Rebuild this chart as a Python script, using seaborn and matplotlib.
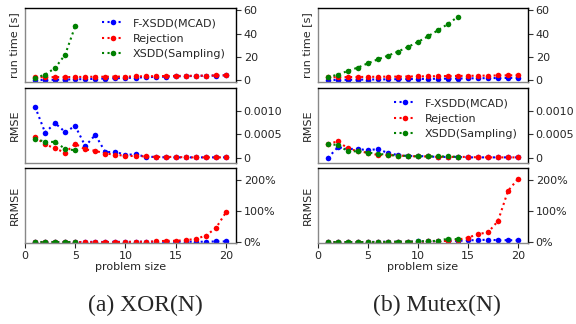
import numpy as np
import pandas as pd
import matplotlib
matplotlib.use("Agg")
import matplotlib.pyplot as plt
import seaborn as sns
from matplotlib.ticker import PercentFormatter, FixedLocator, FixedFormatter

# ---------------- data ----------------
sizes = list(range(1, 21))
methods = ["F-XSDD(MCAD)", "Rejection", "XSDD(Sampling)"]
colors = ["blue", "red", "green"]

# XOR(N)
xor_time_fx = [0.2, 0.3, 0.4, 0.6, 0.8, 1.0, 1.2, 1.5, 1.7, 2.0, 2.3, 2.6, 2.9, 3.1, 3.3, 3.5, 3.7, 3.9, 4.0, 4.2]
xor_time_rej = [2.6, 2.6, 2.7, 2.7, 2.8, 2.9, 3.0, 3.0, 3.1, 3.2, 3.3, 3.4, 3.5, 3.6, 3.7, 3.8, 3.9, 4.0, 4.1, 4.3]
xor_time_xs = [2.2, 4.7, 10.6, 22.0, 46.5]
xor_rmse_fx = [0.00109, 0.00054, 0.00074, 0.00055, 0.00068, 0.00025, 0.00049, 0.00012, 0.00013, 0.00006,
               0.00008, 0.00002, 0.00002, 0.00001, 0.00001, 0.00001, 0.00001, 0.00001, 0.00001, 0.00001]
xor_rmse_rej = [0.00044, 0.00029, 0.00020, 0.00011, 0.00030, 0.00018, 0.00015, 0.00009, 0.00007, 0.00004,
                0.00004, 0.00003, 0.00002, 0.00002, 0.00002, 0.00001, 0.00001, 0.00001, 0.00001, 0.00001]
xor_rmse_xs = [0.00041, 0.00034, 0.00034, 0.00019, 0.00016]
xor_rrmse_fx = [0.01, 0.01, 0.01, 0.01, 0.01, 0.01, 0.02, 0.01, 0.02, 0.01,
                0.02, 0.02, 0.02, 0.02, 0.02, 0.02, 0.02, 0.02, 0.03, 0.03]
xor_rrmse_rej = [0.005, 0.005, 0.005, 0.005, 0.01, 0.01, 0.01, 0.01, 0.01, 0.015,
                 0.02, 0.02, 0.03, 0.05, 0.05, 0.075, 0.11, 0.22, 0.46, 0.97]
xor_rrmse_xs = [0.01, 0.01, 0.01, 0.01, 0.01]

# Mutex(N)
mut_time_fx = [0.2, 0.3, 0.4, 0.5, 0.6, 0.7, 0.8, 0.9, 1.0, 1.1, 1.2, 1.3, 1.4, 1.5, 1.6, 1.7, 1.8, 1.9, 2.0, 2.1]
mut_time_rej = [2.6, 2.6, 2.7, 2.8, 2.9, 3.0, 3.1, 3.1, 3.2, 3.3, 3.4, 3.5, 3.6, 3.7, 3.8, 3.9, 4.0, 4.1, 4.2, 4.3]
mut_time_xs = [2.6, 4.9, 8.0, 10.9, 14.6, 18.0, 21.1, 24.6, 28.6, 32.9, 37.7, 42.9, 48.3, 54.6]
mut_rmse_fx = [0.0, 0.00023, 0.00019, 0.00019, 0.00016, 0.00019, 0.00010, 0.00006, 0.00004, 0.00004,
               0.00003, 0.00002, 0.00002, 0.00002, 0.00001, 0.00001, 0.00001, 0.00001, 0.00001, 0.00001]
mut_rmse_rej = [0.00030, 0.00035, 0.00020, 0.00014, 0.00011, 0.00006, 0.00006, 0.00005, 0.00004, 0.00003,
                0.00003, 0.00002, 0.00002, 0.00002, 0.00002, 0.00001, 0.00001, 0.00001, 0.00001, 0.00001]
mut_rmse_xs = [0.00030, 0.00027, 0.00014, 0.00014, 0.00011, 0.00009, 0.00006, 0.00005, 0.00004, 0.00003,
               0.00003, 0.00003, 0.00003, 0.00002]
mut_rrmse_fx = [0.01, 0.01, 0.01, 0.01, 0.01, 0.02, 0.02, 0.02, 0.02, 0.03,
                0.03, 0.04, 0.05, 0.05, 0.065, 0.075, 0.085, 0.07, 0.07, 0.065]
mut_rrmse_rej = [0.005, 0.005, 0.005, 0.005, 0.01, 0.01, 0.015, 0.015, 0.02, 0.02,
                 0.03, 0.04, 0.05, 0.09, 0.15, 0.27, 0.32, 0.69, 1.66, 2.05]
mut_rrmse_xs = [0.01, 0.01, 0.01, 0.01, 0.01, 0.01, 0.015, 0.02, 0.02, 0.03,
                0.04, 0.05, 0.12, 0.10]

captions = ["(a) XOR(N)", "(b) Mutex(N)"]
ylabels = ["run time [s]", "RMSE", "RRMSE"]
rmse_ticks = [0, 0.0005, 0.0010]
rmse_ticklabels = ["0", "0.0005", "0.0010"]
time_ticks = [0, 20, 40, 60]
rrmse_ticks = [0, 1, 2]

panels = [
    [(xor_time_fx, xor_time_rej, xor_time_xs),
     (xor_rmse_fx, xor_rmse_rej, xor_rmse_xs),
     (xor_rrmse_fx, xor_rrmse_rej, xor_rrmse_xs)],
    [(mut_time_fx, mut_time_rej, mut_time_xs),
     (mut_rmse_fx, mut_rmse_rej, mut_rmse_xs),
     (mut_rrmse_fx, mut_rrmse_rej, mut_rrmse_xs)],
]

# ---------------- figure ----------------
sns.set_style("ticks")
plt.rcParams["font.family"] = ["DejaVu Sans"]
plt.rcParams["font.size"] = 8

fig = plt.figure(figsize=(5.76, 3.24), dpi=100)
W, H = 576.0, 324.0
col_x = [(25, 236), (318, 528)]
row_y = [(8, 82), (88, 163), (168, 243)]
caption_x = [145, 437]
caption_y = 305

legend_pos = [(0, 0), (1, 1)]  # (column, row) holding the legend

for c in range(2):
    for r in range(3):
        x0, x1 = col_x[c]
        y0, y1 = row_y[r]
        ax = fig.add_axes([x0 / W, 1 - y1 / H, (x1 - x0) / W, (y1 - y0) / H])
        series = panels[c][r]
        for name, col, vals in zip(methods, colors, series):
            df = pd.DataFrame({"size": sizes[:len(vals)], "value": vals})
            sns.lineplot(data=df, x="size", y="value", ax=ax, color=col,
                         linestyle=":", linewidth=1.5, marker="o", markersize=4,
                         markeredgewidth=0, label=name, legend=False)
        ax.set_xlim(0, 21)
        ax.set_xlabel("")
        ax.set_ylabel(ylabels[r], fontsize=8, labelpad=4)
        ax.yaxis.tick_right()
        ax.yaxis.set_label_position("left")
        ax.tick_params(axis="y", labelsize=8, length=3.5, width=0.8, pad=2, color="#333333")
        ax.tick_params(axis="x", labelsize=8, length=3.5, width=0.8, pad=2)
        if r == 0:
            ax.set_ylim(-1.5, 62)
            ax.set_yticks(time_ticks)
        elif r == 1:
            ax.set_ylim(-0.00011, 0.00149)
            ax.yaxis.set_major_locator(FixedLocator(rmse_ticks))
            ax.yaxis.set_major_formatter(FixedFormatter(rmse_ticklabels))
        else:
            ax.set_ylim(-0.02, 2.4)
            ax.set_yticks(rrmse_ticks)
            ax.yaxis.set_major_formatter(PercentFormatter(xmax=1, decimals=0))
        if r < 2:
            ax.set_xticks([])
        else:
            ax.set_xticks([0, 5, 10, 15, 20])
            ax.set_xlabel("problem size", fontsize=8, labelpad=1)
        for side in ["top", "right", "left", "bottom"]:
            ax.spines[side].set_visible(True)
            ax.spines[side].set_linewidth(1.0)
        ax.spines["left"].set_color("#888888")
        ax.spines["bottom"].set_color("#888888")
        ax.spines["top"].set_color("black")
        ax.spines["right"].set_color("black")
        if (c, r) in legend_pos:
            handles = ax.get_lines()[:3]
            ax.legend(handles, methods, loc="upper right", frameon=False,
                      fontsize=8, handlelength=2.0, handletextpad=0.8,
                      labelspacing=0.5, borderaxespad=0.5)

for c in range(2):
    fig.text(caption_x[c] / W, 1 - caption_y / H, captions[c], ha="center", va="center",
             fontsize=17, family=["Liberation Serif", "DejaVu Serif"])

fig.savefig("out.png", dpi=100)
